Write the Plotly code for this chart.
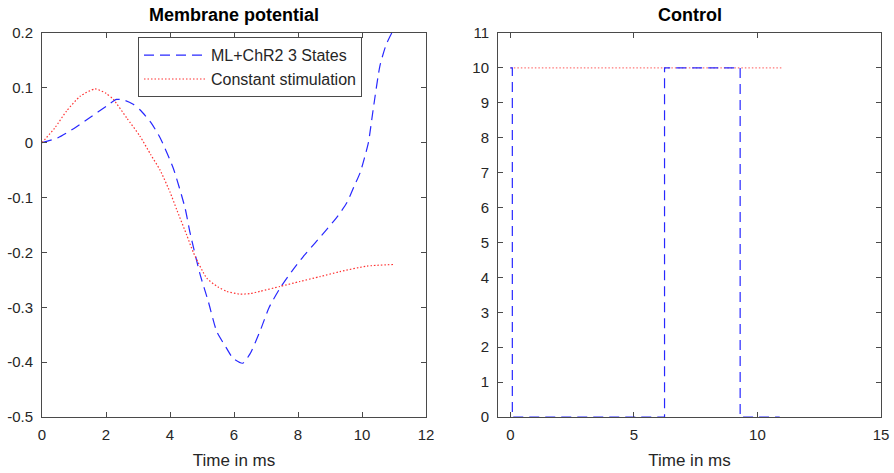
import plotly.graph_objects as go

# ---- data: membrane potential ----
blue_t = [0, 0.5, 1.0, 1.5, 2.0, 2.33, 2.6, 2.85, 3.06, 3.4, 3.69, 4.1, 4.47, 4.63, 4.94, 5.2, 5.46, 5.75, 5.97, 6.27, 6.5, 6.81, 7.1, 7.44, 7.8, 8.17, 8.53, 8.9, 9.2, 9.52, 9.75, 9.94, 10.08, 10.2, 10.35, 10.56, 10.75, 10.93, 11.0]
blue_v = [0, 0.009, 0.026, 0.046, 0.066, 0.079, 0.077, 0.07, 0.06, 0.037, 0.009, -0.046, -0.119, -0.165, -0.24, -0.29, -0.344, -0.373, -0.393, -0.402, -0.385, -0.344, -0.3, -0.265, -0.235, -0.207, -0.183, -0.158, -0.137, -0.11, -0.08, -0.055, -0.027, 0.0, 0.061, 0.14, 0.178, 0.2, 0.207]

red_t = [0, 0.4, 0.77, 1.2, 1.66, 2.0, 2.23, 2.65, 3.06, 3.4, 3.69, 4.0, 4.21, 4.52, 4.73, 5.15, 5.5, 5.77, 6.19, 6.5, 6.81, 7.44, 8.06, 8.69, 9.31, 10.15, 10.98]
red_v = [0, 0.027, 0.058, 0.085, 0.098, 0.09, 0.079, 0.045, 0.012, -0.022, -0.05, -0.09, -0.122, -0.168, -0.2, -0.247, -0.263, -0.271, -0.276, -0.275, -0.271, -0.262, -0.253, -0.244, -0.235, -0.225, -0.222]

# ---- data: control ----
ctrl_t = [0, 0.08, 6.24, 9.3, 10.9]
ctrl_v = [10, 0, 10, 0, 0]
const_t = [0, 11]
const_v = [10, 10]

# ---- tick labels ----
left_xticks = [0, 2, 4, 6, 8, 10, 12]
left_yticks = [0.2, 0.1, 0, -0.1, -0.2, -0.3, -0.4, -0.5]
left_ytext = ["0.2", "0.1", "0", "-0.1", "-0.2", "-0.3", "-0.4", "-0.5"]
right_xticks = [0, 5, 10, 15]
right_yticks = list(range(0, 12))

series_names = ["ML+ChR2 3 States", "Constant stimulation"]
titles = ["Membrane potential", "Control"]
xlabel = "Time in ms"

BLUE = "rgb(40,40,255)"
RED = "rgb(255,50,50)"
AX = "#262626"
LINE_AX = "#4a4a4a"
FONT = "Liberation Sans, Arial, Helvetica, sans-serif"

# page geometry (pixels)
W, H = 894, 473
ML, MR, MT, MB = 42, 13, 33, 56
PW, PH = W - ML - MR, H - MT - MB

fig = go.Figure()
fig.add_trace(go.Scatter(x=blue_t, y=blue_v, mode="lines", name=series_names[0],
                         line=dict(color=BLUE, width=1.2, dash="10px,6px", shape="spline", smoothing=0.6),
                         xaxis="x", yaxis="y"))
fig.add_trace(go.Scatter(x=red_t, y=red_v, mode="lines", name=series_names[1],
                         line=dict(color=RED, width=1.2, dash="1.5px,2px", shape="spline", smoothing=0.6),
                         xaxis="x", yaxis="y"))
fig.add_trace(go.Scatter(x=const_t, y=const_v, mode="lines", showlegend=False,
                         line=dict(color="rgb(255,120,120)", width=1.2, dash="1.5px,2px"),
                         xaxis="x2", yaxis="y2"))
fig.add_trace(go.Scatter(x=ctrl_t, y=ctrl_v, mode="lines", showlegend=False,
                         line=dict(color=BLUE, width=1.2, dash="10px,6px", shape="hv"),
                         xaxis="x2", yaxis="y2"))

axis_common = dict(showline=True, linecolor=LINE_AX, linewidth=1, mirror="ticks",
                   ticks="inside", ticklen=5, tickcolor=LINE_AX, showgrid=False, zeroline=False,
                   automargin=False, tickfont=dict(family=FONT, size=15, color=AX))
xtitle = dict(text=xlabel, font=dict(family=FONT, size=17, color=AX), standoff=12)

fig.update_layout(
    width=W, height=H,
    margin=dict(l=ML, r=MR, t=MT, b=MB, autoexpand=False),
    paper_bgcolor="white", plot_bgcolor="white",
    font=dict(family=FONT, size=15, color=AX),
    xaxis=dict(domain=[0, (426 - ML) / PW], range=[0, 12], tickvals=left_xticks,
               title=xtitle, ticklabelstandoff=4, anchor="y", **axis_common),
    yaxis=dict(domain=[0, 1], range=[-0.5, 0.2], tickvals=left_yticks, ticktext=left_ytext,
               ticklabelstandoff=5, anchor="x", **axis_common),
    xaxis2=dict(domain=[(498 - ML) / PW, 1], range=[-0.5, 15], tickvals=right_xticks,
                title=xtitle, ticklabelstandoff=4, anchor="y2", **axis_common),
    yaxis2=dict(domain=[0, 1], range=[0, 11], tickvals=right_yticks,
                ticklabelstandoff=5, anchor="x2", **axis_common),
    legend=dict(x=(138 - ML) / PW, y=1 - (37.3 - MT) / PH, xanchor="left", yanchor="top",
                bordercolor=LINE_AX, borderwidth=1, bgcolor="white",
                font=dict(family=FONT, size=16, color=AX),
                tracegroupgap=0, itemwidth=62),
    showlegend=True,
    annotations=[
        dict(text="<b>" + titles[0] + "</b>", x=((42 + 426) / 2 - ML) / PW, y=1 + (MT - 15) / PH,
             xref="paper", yref="paper", showarrow=False, xanchor="center", yanchor="middle",
             font=dict(family=FONT, size=18, color="black")),
        dict(text="<b>" + titles[1] + "</b>", x=((498 + 881) / 2 - ML) / PW, y=1 + (MT - 15) / PH,
             xref="paper", yref="paper", showarrow=False, xanchor="center", yanchor="middle",
             font=dict(family=FONT, size=18, color="black")),
    ],
)

fig.write_html("out.html")
